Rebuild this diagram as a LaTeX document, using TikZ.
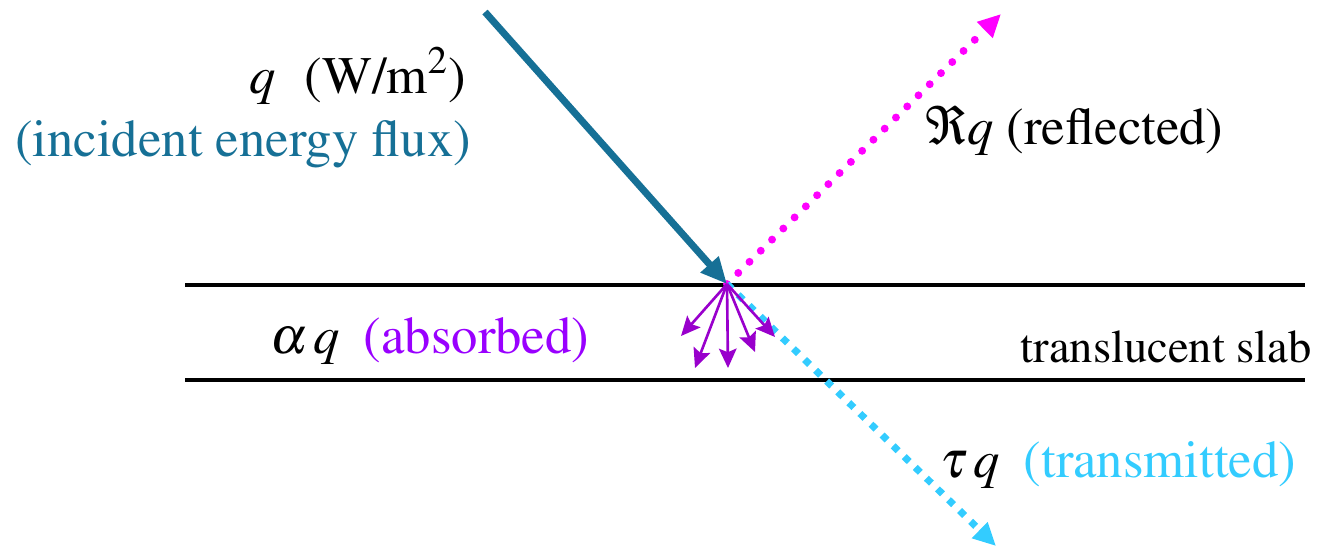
\documentclass[tikz,border=0pt]{standalone}
\usepackage[T1]{fontenc}
\usepackage{mathptmx}
\usetikzlibrary{arrows.meta}
\definecolor{fluxblue}{RGB}{22,112,150}
\definecolor{reflmagenta}{RGB}{255,0,255}
\definecolor{transcyan}{RGB}{51,204,255}
\definecolor{absviolet}{RGB}{153,0,204}
\definecolor{abstext}{RGB}{153,0,255}

\tikzset{
    lbl/.style={inner sep=0pt, font=\fontsize{30}{36}\selectfont},
    slabface/.style={black, line width=2.3pt},
    absray/.style={absviolet, line width=1.5pt, -{Stealth[length=11pt, width=10pt, inset=2pt]}}
}

\begin{document}
\begin{tikzpicture}[x=0.02cm, y=-0.02cm]
    % Bounding box in pixel units (y grows downwards)
    \useasboundingbox (0,0) rectangle (1323,556);

    % Points of the slab and of the rays
    \coordinate (topL) at (185,285);
    \coordinate (topR) at (1305,285);
    \coordinate (botL) at (185,380);
    \coordinate (botR) at (1305,380);
    \coordinate (hit) at (727,284);
    \coordinate (src) at (485,12);
    \coordinate (refl) at (1001,14);
    \coordinate (trans) at (996,546);

    % Faces of the translucent slab
    \draw[slabface] (topL) -- (topR);
    \draw[slabface] (botL) -- (botR);

    % Reflected and transmitted parts (dotted)
    \draw[reflmagenta, line width=4.5pt, line cap=round, dash pattern=on 0pt off 9pt,
        -{Triangle[length=13pt, width=12pt]}] (hit) -- (refl);
    \draw[transcyan, line width=4pt, dash pattern=on 4pt off 4.8pt,
        -{Triangle[length=13pt, width=12pt]}] (hit) -- (trans);

    % Absorbed part fans out inside the slab
    \foreach \px/\py [count=\i] in {681/336, 695/368, 728/368, 755/352, 775/337}
        \coordinate (abs\i) at (\px,\py);
    \foreach \i in {1,...,5}
        \draw[absray] (hit) -- (abs\i);

    % Incident flux
    \draw[fluxblue, line width=4pt, -{Triangle[length=15pt, width=13pt]}] (src) -- (hit);

    % Labels
    \node[lbl, anchor=base east] (qlbl) at (466,93) {$q$\hspace{0.55em}(W/m\textsuperscript{2})};
    \node[lbl, anchor=base west, fluxblue] (inclbl) at (15,156) {(incident energy flux)};
    \node[lbl, anchor=base west] (refllbl) at (925,144) {$\Re q$\ (reflected)};
    \node[lbl, anchor=base west] (abslbl) at (270,353) {$\alpha\,q$\hspace{0.45em}\color{abstext}(absorbed)};
    \node[lbl, anchor=base east, font=\fontsize{26.5}{32}\selectfont] (slablbl) at (1312,362) {translucent slab};
    \node[lbl, anchor=base west] (translbl) at (940,477) {$\tau\,q$\hspace{0.45em}\color{transcyan}(transmitted)};
\end{tikzpicture}
\end{document}
